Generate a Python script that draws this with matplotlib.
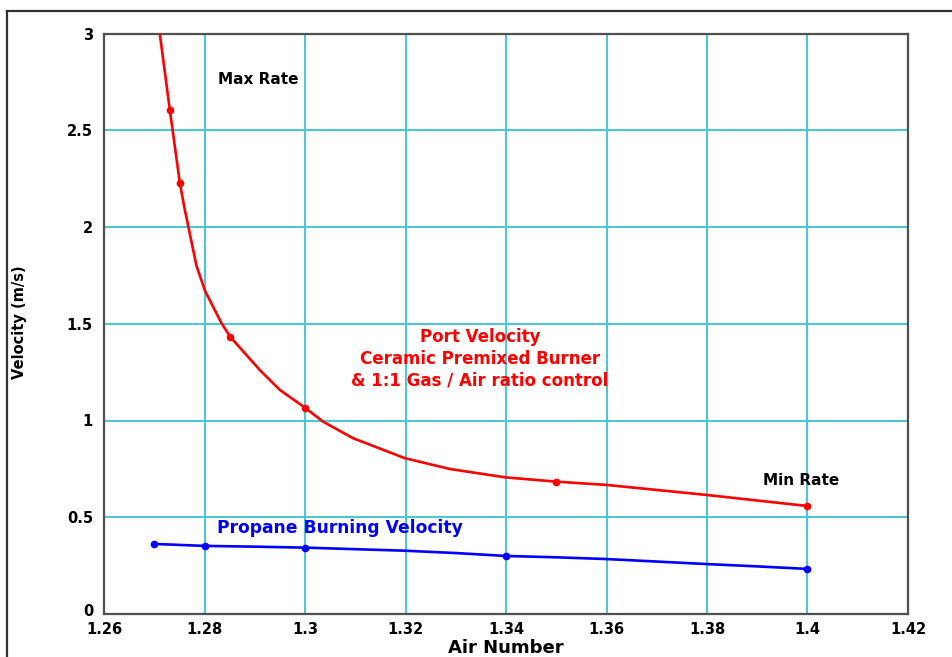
import matplotlib
matplotlib.use("Agg")
import matplotlib.pyplot as plt
from matplotlib.lines import Line2D

# port velocity curve (red) - plotted line and the marked points
port_x = [1.2711, 1.2731, 1.2751, 1.2760, 1.2768, 1.2784, 1.2801, 1.2834, 1.2851, 1.2910, 1.2950, 1.3000,
          1.3036, 1.3096, 1.3199, 1.3289, 1.3399, 1.3500, 1.3600, 1.3800, 1.4000]
port_y = [3.0, 2.605, 2.227, 2.10, 2.0, 1.800, 1.670, 1.502, 1.433, 1.261, 1.158, 1.066,
          0.994, 0.908, 0.805, 0.749, 0.706, 0.684, 0.667, 0.615, 0.558]
port_mx = [1.2731, 1.2751, 1.2851, 1.3000, 1.3500, 1.4000]
port_my = [2.605, 2.227, 1.433, 1.066, 0.684, 0.558]

# propane burning velocity (blue)
prop_x = [1.27, 1.28, 1.29, 1.30, 1.31, 1.32, 1.33, 1.34, 1.35, 1.36, 1.37, 1.38, 1.39, 1.40]
prop_y = [0.362, 0.352, 0.348, 0.343, 0.335, 0.327, 0.315, 0.300, 0.293, 0.284, 0.271, 0.258, 0.246, 0.233]
prop_mx = [1.27, 1.28, 1.30, 1.34, 1.40]
prop_my = [0.362, 0.350, 0.343, 0.300, 0.233]

xticks = [1.26, 1.28, 1.30, 1.32, 1.34, 1.36, 1.38, 1.40, 1.42]
xticklabels = ["1.26", "1.28", "1.3", "1.32", "1.34", "1.36", "1.38", "1.4", "1.42"]
yticks = [0, 0.5, 1, 1.5, 2, 2.5, 3]
yticklabels = ["", "0.5", "1", "1.5", "2", "2.5", "3"]

plt.rcParams['font.family'] = ['DejaVu Sans']
plt.rcParams['font.weight'] = 'bold'

W, H = 953, 657
fig = plt.figure(figsize=(W / 100, H / 100), dpi=100)
ax = fig.add_axes([104 / W, 1 - 614 / H, (908 - 104) / W, (614 - 33.5) / H])

grid_c = '#4ec6d6'
for x in xticks[1:-1]:
    ax.axvline(x, color=grid_c, lw=1.5, zorder=1)
for y in yticks[1:-1]:
    ax.axhline(y, color=grid_c, lw=1.5, zorder=1)

ax.plot(port_x, port_y, color='#ff0000', lw=1.9, zorder=3)
ax.plot(port_mx, port_my, 'o', color='#ff0000', ms=4.5, zorder=4)
ax.plot(prop_x, prop_y, color='#0000ff', lw=1.9, zorder=3)
ax.plot(prop_mx, prop_my, 'o', color='#0000ff', ms=4.5, zorder=4)

ax.set_xlim(1.26, 1.42)
ax.set_ylim(0, 3)
ax.set_xticks(xticks)
ax.set_xticklabels(xticklabels, fontsize=10.5, fontweight='bold')
ax.set_yticks(yticks)
ax.set_yticklabels(yticklabels, fontsize=10.5, fontweight='bold')
ax.tick_params(axis='y', length=0, pad=8)
ax.tick_params(axis='x', length=0, pad=6)
for s in ax.spines.values():
    s.set_color('#505050')
    s.set_linewidth(1.6)

# "0" sits apart at the origin
fig.text(88 / W, 1 - 612 / H, "0", fontsize=10.5, fontweight='bold', ha='center', va='center')

fig.text(506 / W, 1 - 648 / H, "Air Number", fontsize=13, fontweight='bold', ha='center', va='center')
fig.text(20 / W, 1 - 322 / H, "Velocity (m/s)", fontsize=10.5, fontweight='bold', ha='center', va='center', rotation=90)

ax.text(1.2906, 2.76, "Max Rate", fontsize=11, fontweight='bold', ha='center', va='center')
ax.text(1.3987, 0.69, "Min Rate", fontsize=11, fontweight='bold', ha='center', va='center')
ax.text(1.3070, 0.444, "Propane Burning Velocity", fontsize=12.3, fontweight='bold', color='#0000ff', ha='center', va='center')
ax.text(1.3348, 1.318, "Port Velocity\nCeramic Premixed Burner\n& 1:1 Gas / Air ratio control",
        fontsize=12, fontweight='bold', color='#ff0000', ha='center', va='center', linespacing=1.25)

# outer frame (left and top edges)
fig.add_artist(Line2D([7 / W, 7 / W], [0, 1 - 11 / H], color='#303030', lw=1.6))
fig.add_artist(Line2D([7 / W, 1], [1 - 11 / H, 1 - 11 / H], color='#303030', lw=1.6))

fig.savefig("out.png", dpi=100)
